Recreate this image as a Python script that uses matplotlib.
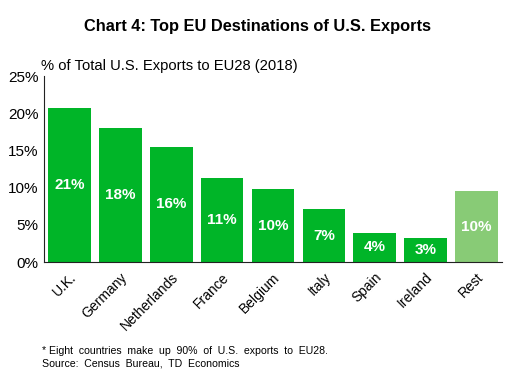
import matplotlib
matplotlib.use('Agg')
import matplotlib.pyplot as plt

plt.rcParams['font.family'] = ['Liberation Sans', 'DejaVu Sans']

countries = ['U.K.', 'Germany', 'Netherlands', 'France', 'Belgium',
             'Italy', 'Spain', 'Ireland', 'Rest']
shares = [20.7, 18.0, 15.5, 11.3, 9.8, 7.1, 3.9, 3.2, 9.5]
bar_labels = ['21%', '18%', '16%', '11%', '10%', '7%', '4%', '3%', '10%']
yticks = [0, 5, 10, 15, 20, 25]

GREEN = '#00B528'
LIGHT = '#88CB76'
colors = [GREEN] * 8 + [LIGHT]

fig = plt.figure(figsize=(5.16, 3.85), dpi=100)
ax = fig.add_axes([44 / 516, 1 - 262 / 385, 458 / 516, 186 / 385])

x = range(len(countries))
bars = ax.bar(x, shares, width=0.84, color=colors)
for b, lab in zip(bars, bar_labels):
    ax.text(b.get_x() + b.get_width() / 2, b.get_height() / 2, lab,
            ha='center', va='center', color='white',
            fontsize=11, fontweight='bold')

ax.set_xlim(-0.5, len(countries) - 0.5)
ax.set_ylim(0, 25)
ax.set_yticks(yticks)
ax.set_yticklabels(['%d%%' % t for t in yticks], fontsize=11)
ax.set_xticks(list(x))
ax.set_xticklabels(countries, rotation=45, ha='right',
                   rotation_mode='anchor', fontsize=10)
ax.tick_params(axis='both', length=0, pad=6)
ax.tick_params(axis='y', pad=4)
for s in ['top', 'right']:
    ax.spines[s].set_visible(False)
ax.spines['left'].set_color('#222222')
ax.spines['bottom'].set_color('#222222')

fig.text(0.5, 1 - 26 / 385, 'Chart 4: Top EU Destinations of U.S. Exports',
         ha='center', va='center', fontsize=11.8, fontweight='bold')
fig.text(41 / 516, 1 - 66 / 385, '% of Total U.S. Exports to EU28 (2018)',
         ha='left', va='center', fontsize=10.6)
fig.text(42 / 516, 1 - 351 / 385,
         '* Eight  countries  make  up  90%  of  U.S.  exports  to  EU28.',
         ha='left', va='center', fontsize=7.6)
fig.text(42 / 516, 1 - 364 / 385, 'Source:  Census  Bureau,  TD  Economics',
         ha='left', va='center', fontsize=7.6)

fig.savefig('out.png', dpi=100)
